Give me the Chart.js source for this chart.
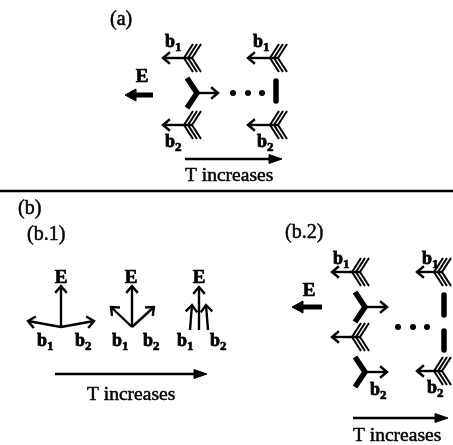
<!DOCTYPE html>
<html><head><meta charset="utf-8">
<script src="https://cdn.jsdelivr.net/npm/chart.js@4.4.1/dist/chart.umd.min.js"></script>
<style>html,body{margin:0;padding:0;background:#fff}#wrap{width:453px;height:445px}</style>
</head><body><div id="wrap"><canvas id="c" width="453" height="445"></canvas></div>
<script>
// ---- diagram data (in diagram units, drawn through the chart's linear scales) ----
// fletched arrows pointing left: [tipX, y, fletchVertexX]
const fletchedLeft = [[163,58,184],[248,58,270],[163,125,184],[248,125,270],
                      [332,272,352],[417,272,434],[332,337,352],[417,371,434]];
// thick chevron tails with open arrow to the right: [vertexX, y, tipX]
const chevronRight = [[197,93,218],[365,307,387],[365,372,387]];
// dots of the ellipsis
const dots = [[233,93],[248,93],[262,93],[398,327],[413,327],[427,327]];
// thick vertical bars: [x, y1, y2]
const bars = [[276,79,103],[444,293,317],[444,329,352]];
// bold field arrows E: [tailX, tipX, y]
const fieldArrows = [[153,125,95],[322,292,307]];
// b.1 open arrows: [tailX, tailY, tipX, tipY]
const openArrows = [[61,327,61,286],[61,327,28,321],[61,327,94,321],
                    [132,327,132,286],[132,327,111,307],[132,327,154,307],
                    [190,330,192,305],[199,330,199,287],[208,330,206,305]];
// "T increases" arrows: [x1, x2, y]
const tArrows = [[185,282,159],[55,207,374],[353,448,418]];
// divider line
const divider = [[0,191],[453,191]];
// text labels: [text, x, baseline]
const panelLabels = [["(a)",110,25],["(b)",18,214],["(b.1)",27,240],["(b.2)",285,238]];
const tLabels = [["T increases",185,181],["T increases",87,400],["T increases",353,441]];
const eLabels = [[142,82],[61,283],[131,283],[199,283],[309,296]];
// b labels: [subscript, x, baseline]
const bLabels = [["1",165,47],["1",253,47],["2",165,147],["2",257,147],
                 ["1",37,346],["2",75,346],["1",112,346],["2",143,346],["1",177,346],["2",210,346],
                 ["1",333,264],["1",422,264],["2",370,395],["2",427,393]];

const K = '#000';
const datasets = [];
function line(pts, w, extra) {
  datasets.push(Object.assign({
    data: pts.map(p => ({x:p[0], y:p[1]})), showLine: true, borderColor: K, backgroundColor: K,
    borderWidth: w, pointRadius: 0, pointHoverRadius: 0, fill: false, tension: 0, clip: false,
    borderCapStyle: 'butt', borderJoinStyle: 'miter'
  }, extra || {}));
}
function openHead(x1,y1,x2,y2,L,ang,w){
  const dx=x2-x1, dy=y2-y1, d=Math.hypot(dx,dy), ux=dx/d, uy=dy/d;
  const a=ang*Math.PI/180, c=Math.cos(a), s=Math.sin(a);
  const p1=[x2-L*(ux*c-uy*s), y2-L*(uy*c+ux*s)];
  const p2=[x2-L*(ux*c+uy*s), y2-L*(uy*c-ux*s)];
  line([p1,[x2,y2],p2], w, {borderJoinStyle:'miter'});
}
function filledHead(x1,x2,y,L,h){
  const dir = Math.sign(x2-x1);
  line([[x2-dir*L,y-h],[x2,y],[x2-dir*L,y+h],[x2-dir*L,y-h]], 1, {fill:'shape'});
}
// divider
line(divider, 2.5);
// fletched left arrows
fletchedLeft.forEach(([tx,y,vx]) => {
  line([[tx+1,y],[vx+8,y]], 2.4);
  openHead(vx,y,tx,y,9,40,2.4);
  for (let k=0;k<3;k++){ const v=vx+4*k; line([[v+9,y-14],[v,y],[v+9,y+14]], 2); }
});
// thick chevrons + right arrows
chevronRight.forEach(([vx,y,tx]) => {
  line([[vx-10,y-15],[vx,y],[vx-10,y+15]], 5.5);
  line([[vx,y],[tx-1,y]], 2.4);
  openHead(vx,y,tx,y,9,40,2.4);
});
// dots
datasets.push({data: dots.map(p=>({x:p[0],y:p[1]})), showLine:false, pointRadius:3,
  pointBackgroundColor:K, pointBorderColor:K, pointBorderWidth:0, clip:false});
// bars
bars.forEach(([x,y1,y2]) => line([[x,y1+2],[x,y2-2]], 5.5, {borderCapStyle:'round'}));
// field arrows
fieldArrows.forEach(([t,h,y]) => { line([[t,y],[h+8,y]], 5); filledHead(t,h,y,11,6); });
// b.1 arrows
openArrows.forEach(([x1,y1,x2,y2]) => { line([[x1,y1],[x2,y2]], 2.4); openHead(x1,y1,x2,y2,9,40,2.4); });
// T arrows
tArrows.forEach(([x1,x2,y]) => { line([[x1,y],[x2-8,y]], 2.6); filledHead(x1,x2,y,13,4.5); });

const SERIF = '"Liberation Serif","Times New Roman",serif';
function txt(c, t, x, y, sw) {
  c.fillText(t, x, y);
  if (sw) { c.lineWidth = sw; c.strokeText(t, x, y); }
}
const textPlugin = {
  id: 'texts',
  afterDatasetsDraw(chart) {
    const c = chart.ctx, xs = chart.scales.x, ys = chart.scales.y;
    const X = v => xs.getPixelForValue(v), Y = v => ys.getPixelForValue(v);
    c.save(); c.fillStyle = K; c.strokeStyle = K; c.lineJoin = 'round'; c.textBaseline = 'alphabetic';
    c.font = '20px ' + SERIF; c.textAlign = 'left';
    panelLabels.forEach(([t,x,y]) => txt(c, t, X(x), Y(y), 0.5));
    c.font = '19.5px ' + SERIF;
    tLabels.forEach(([t,x,y]) => txt(c, t, X(x), Y(y), 0.5));
    c.font = 'bold 19px ' + SERIF; c.textAlign = 'center';
    eLabels.forEach(([x,y]) => txt(c, 'E', X(x), Y(y), 0.7));
    c.textAlign = 'left';
    bLabels.forEach(([s,x,y]) => {
      c.font = 'bold 18px ' + SERIF; txt(c, 'b', X(x), Y(y), 0.8);
      const w = c.measureText('b').width;
      c.font = 'bold 13px ' + SERIF; txt(c, s, X(x)+w, Y(y)+4, 0.7);
    });
    c.restore();
  }
};

new Chart(document.getElementById('c'), {
  type: 'scatter',
  data: { datasets },
  options: {
    responsive: false, animation: false, events: [],
    layout: { padding: 0, autoPadding: false },
    plugins: { legend: {display:false}, tooltip: {enabled:false} },
    scales: {
      x: { type:'linear', min:0, max:453, display:false },
      y: { type:'linear', min:0, max:445, reverse:true, display:false }
    }
  },
  plugins: [textPlugin]
});
</script></body></html>
